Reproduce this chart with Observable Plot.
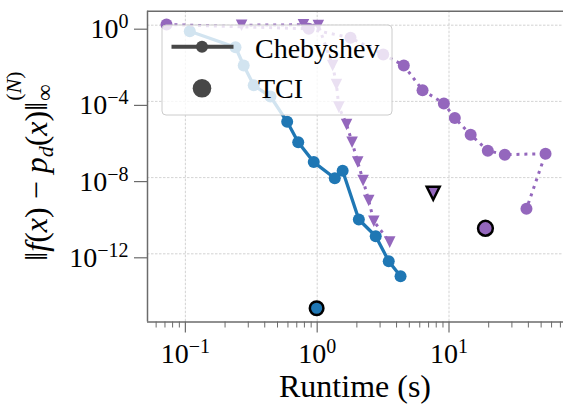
<!DOCTYPE html>
<html><head><meta charset="utf-8">
<script src="https://cdn.jsdelivr.net/npm/d3@7"></script>
<script src="https://cdn.jsdelivr.net/npm/@observablehq/plot@0.6"></script>
<style>body{margin:0;background:#fff}</style>
</head><body><div id="chart"></div>
<script>
// ---- data ----
const chebT = [0.108, 0.240, 0.277, 0.330, 0.442, 0.592, 0.718, 0.942, 1.36, 1.56, 2.07, 2.78, 3.49, 4.29];
const chebE = [0.48, 0.070, 7.7e-3, 7e-4, 1.8e-4, 8.5e-6, 7.2e-7, 6.5e-8, 9.3e-9, 2.3e-8, 6.3e-11, 8.3e-12, 4.1e-13, 6.6e-14];

const circT = [0.0719, 0.863, 1.79, 3.17, 4.54, 6.30, 9.14, 11.07, 14.6, 19.7, 26.5, 54.0, 38.7];
const circE = [1.09, 0.646, 0.219, 0.0288, 7.7e-3, 3.9e-4, 7.8e-5, 1.35e-5, 1.78e-6, 2.6e-7, 1.6e-7, 1.8e-7, 2.3e-10];

const triT = [0.267, 0.787, 1.02, 1.31, 1.40, 1.46, 1.67, 1.84, 2.03, 2.23, 2.46, 2.69, 3.55];
const triE = [1.0, 1.05, 0.97, 7.7e-3, 7.8e-4, 5.0e-5, 6.2e-6, 7.2e-7, 6.5e-8, 7.1e-9, 6.3e-10, 5.1e-11, 4.1e-12];

const tciBlue = {t: 0.99, e: 1.38e-15};
const tciTri = {t: 7.59, e: 1.51e-9};
const tciCirc = {t: 18.9, e: 2.19e-11};

const xMajor = [0.1, 1, 10];
const xTickLabels = ["10^−1", "10^0", "10^1"];
const xMinor = [0.06,0.07,0.08,0.09,0.2,0.3,0.4,0.5,0.6,0.7,0.8,0.9,2,3,4,5,6,7,8,9,20,30,40,50,60,70];
const yMajor = [1, 1e-4, 1e-8, 1e-12];
const yTickLabels = ["10^0", "10^−4", "10^−8", "10^−12"];
const legendLabels = ["Chebyshev", "TCI"];
const xLabel = "Runtime (s)";

// ---- build ----
const zip = (T, E) => T.map((t, i) => ({t, e: E[i]}));
const cheb = zip(chebT, chebE), circ = zip(circT, circE), tri = zip(triT, triE);

const serif = "'Liberation Serif', 'DejaVu Serif', serif";
const blue = "#1f77b4", purple = "#9467bd", spine = "#6b6b6b";
const xDom = [0.0516, 73.9], yDom = [2.63e-16, 5.43];
const W = 563, H = 405, mL = 147, mR = 0, mT = 10.7, mB = 83.5;

const triDown = {draw(ctx, size) { const s = Math.sqrt(size) / 2; ctx.moveTo(0, s); ctx.lineTo(-s, -s); ctx.lineTo(s, -s); ctx.closePath(); }};
const grid = {stroke: "#c8c8c8", strokeWidth: 0.8, strokeDasharray: "2.5,1.5"};
const dotted = {strokeWidth: 3, strokeDasharray: "3,4.9", strokeLinecap: "butt"};

const plot = Plot.plot({
  width: W, height: H,
  marginLeft: mL, marginRight: mR, marginTop: mT, marginBottom: mB,
  x: {type: "log", domain: xDom},
  y: {type: "log", domain: yDom},
  style: {fontFamily: serif, background: "white", color: "black"},
  marks: [
    Plot.ruleX(xMajor, grid),
    Plot.ruleY(yMajor, grid),
    Plot.line(cheb, {x: "t", y: "e", stroke: blue, strokeWidth: 3.3}),
    Plot.dot(cheb, {x: "t", y: "e", r: 6, fill: blue}),
    Plot.line(circ, {x: "t", y: "e", stroke: purple, ...dotted}),
    Plot.dot(circ, {x: "t", y: "e", r: 6, fill: purple}),
    Plot.line(tri, {x: "t", y: "e", stroke: purple, ...dotted}),
    Plot.dot(tri, {x: "t", y: "e", r: 6.5, fill: purple, symbol: triDown}),
    Plot.dot([tciBlue], {x: "t", y: "e", r: 6.8, fill: blue, stroke: "black", strokeWidth: 2.5}),
    Plot.dot([tciTri], {x: "t", y: "e", r: 7.3, fill: purple, stroke: "black", strokeWidth: 2.5, symbol: triDown, strokeLinejoin: "miter"}),
    Plot.dot([tciCirc], {x: "t", y: "e", r: 7.4, fill: purple, stroke: "black", strokeWidth: 2.5}),
    Plot.ruleX([xDom[0]], {stroke: spine, strokeWidth: 1.5}),
    Plot.ruleY([yDom[0]], {stroke: spine, strokeWidth: 1.5}),
    Plot.ruleY([yDom[1]], {stroke: spine, strokeWidth: 1.5}),
    Plot.axisX(xMinor, {tickSize: 6, stroke: spine, strokeWidth: 1, tickFormat: () => "", label: null}),
    Plot.axisX(xMajor, {tickSize: 11, tickPadding: 10, stroke: spine, strokeWidth: 1.2, fontSize: 28, tickFormat: d => xTickLabels[xMajor.indexOf(d)], label: null}),
    Plot.axisY(yMajor, {tickSize: 13, tickPadding: 6, stroke: spine, strokeWidth: 1.2, fontSize: 28, dy: 4, tickFormat: d => yTickLabels[yMajor.indexOf(d)], label: null})
  ]
});
document.getElementById("chart").appendChild(plot);
const svg = d3.select(plot);

// superscripts on tick labels
function supify(sel, supSize, raise) {
  sel.each(function() {
    const t = d3.select(this);
    const s = t.text();
    if (!s.includes("^")) return;
    const [base, exp] = s.split("^");
    t.text(null);
    t.append("tspan").text(base);
    t.append("tspan").attr("dy", -raise).style("font-size", supSize + "px").text(exp);
  });
}
supify(svg.selectAll('g[aria-label="x-axis tick label"] text'), 20, 10);
supify(svg.selectAll('g[aria-label="y-axis tick label"] text'), 20, 10);

// x label
svg.append("text").attr("x", mL + (W - mR - mL) / 2).attr("y", 396.5)
  .attr("text-anchor", "middle").style("font-family", serif).style("font-size", "32px").text(xLabel);

// y label: ‖f(x) − p_d(x)‖_∞^(N)
const cy = mT + (H - mB - mT) / 2;
const add = (el, txt, opts = {}) => { const ts = el.append("tspan").text(txt); if (opts.it) ts.style("font-style", "italic"); if (opts.size) ts.style("font-size", opts.size + "px"); if (opts.dy) ts.attr("dy", opts.dy); return ts; };
const yl = svg.append("g").attr("transform", `translate(47,${cy}) rotate(-90)`);
const inner = yl.append("g");
const main = inner.append("text").attr("text-anchor", "start").attr("x", 0).attr("y", 0)
  .style("font-family", serif).style("font-size", "32px");
add(main, "‖"); add(main, "f", {it: 1}); add(main, "("); add(main, "x", {it: 1}); add(main, ")\u00a0−\u00a0");
add(main, "p", {it: 1}); add(main, "d", {it: 1, size: 22, dy: 6}); add(main, "(", {dy: -6}); add(main, "x", {it: 1}); add(main, ")‖");
const w = main.node().getComputedTextLength();
const sub = inner.append("text").attr("text-anchor", "start").attr("x", w + 1).attr("y", 5)
  .style("font-family", serif).style("font-size", "23px").text("∞");
const sup = inner.append("text").attr("text-anchor", "start").attr("x", w + 1).attr("y", -26)
  .style("font-family", serif).style("font-size", "22px");
add(sup, "("); add(sup, "N", {it: 1}); add(sup, ")");
const total = w + 1 + Math.max(sub.node().getComputedTextLength(), sup.node().getComputedTextLength());
inner.attr("transform", `translate(${-total / 2},0)`);

// legend (drawn over the data with a translucent white box)
const lg = svg.append("g").attr("transform", `translate(${mL + 15},${mT + 14.3})`);
const hc = "#474747";
lg.append("rect").attr("width", 230).attr("height", 90).attr("rx", 4)
  .attr("fill", "white").attr("fill-opacity", 0.8).attr("stroke", "#cccccc").attr("stroke-width", 1);
lg.append("line").attr("x1", 9.5).attr("x2", 71.5).attr("y1", 21.7).attr("y2", 21.7).attr("stroke", hc).attr("stroke-width", 4);
lg.append("circle").attr("cx", 40).attr("cy", 21.7).attr("r", 6).attr("fill", hc);
lg.append("text").attr("text-anchor", "start").attr("x", 93).attr("y", 33).style("font-family", serif).style("font-size", "28px").text(legendLabels[0]);
lg.append("circle").attr("cx", 40).attr("cy", 63.3).attr("r", 9.3).attr("fill", hc);
lg.append("text").attr("text-anchor", "start").attr("x", 96).attr("y", 73).style("font-family", serif).style("font-size", "28px").text(legendLabels[1]);
</script>
</body></html>
